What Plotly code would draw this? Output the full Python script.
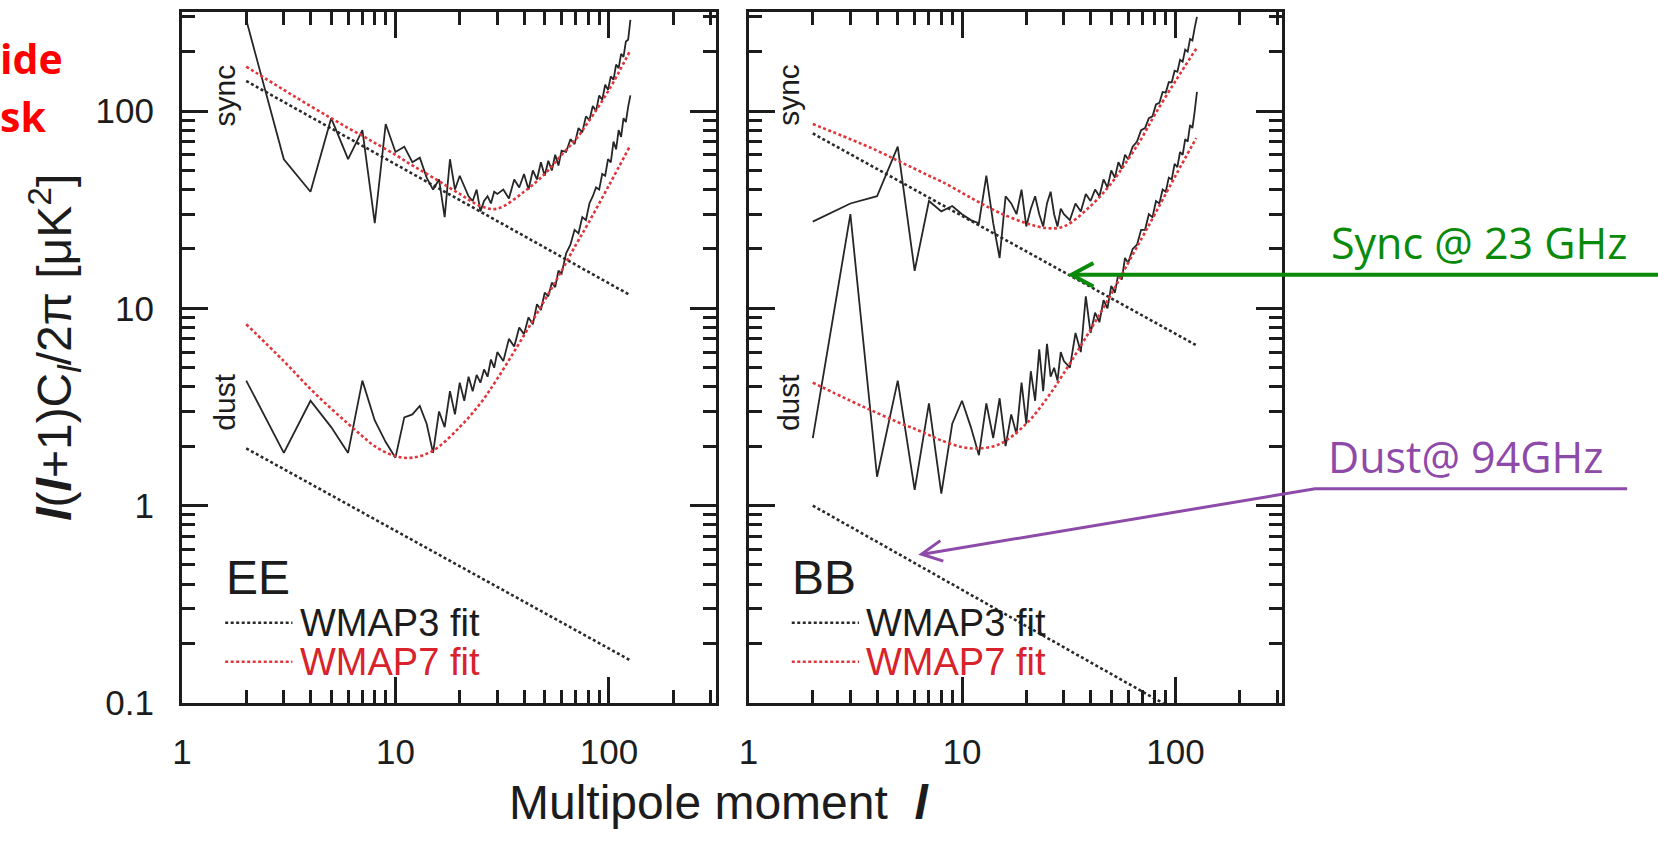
import plotly.graph_objects as go

W, H = 1658, 847

# ---------------- data ----------------
L_FIT = [2, 3, 4, 5, 6, 7, 8, 10, 12, 15, 20, 25, 30, 40, 50, 60, 70, 80, 100, 125]
EE_SYNC_W7 = [168, 128, 106, 92, 82, 75, 69, 60, 53, 46, 38, 33, 32, 39, 48, 60, 72, 88, 128, 200]
EE_DUST_W7 = [8.3, 5.4, 3.9, 3.1, 2.6, 2.25, 2.0, 1.78, 1.75, 1.9, 2.5, 3.3, 4.4, 7.3, 11, 15.5, 21, 27, 42, 66]
BB_SYNC_W7 = [86, 72, 63, 56, 51, 47, 44, 38.5, 34.5, 30.5, 27, 25.5, 26, 33, 43, 57, 74, 96, 142, 207]
BB_DUST_W7 = [4.2, 3.4, 2.95, 2.65, 2.45, 2.28, 2.14, 1.98, 1.95, 2.05, 2.6, 3.5, 4.7, 7.8, 11.8, 17, 23, 30, 47, 73]

L_W3 = [2, 125]
EE_SYNC_W3 = [142, 11.7]
EE_DUST_W3 = [1.95, 0.165]
BB_SYNC_W3 = [77, 6.5]
BB_DUST_W3 = [1.0, 0.08]

L_DATA = [2, 3, 4, 5, 6, 7, 8, 9, 10, 11, 12, 13, 14, 15, 16, 17, 18, 19, 20, 21,
          22, 23, 24, 25, 26, 27, 28, 29, 30, 32, 34, 36, 38, 40, 42, 44, 46, 48, 50,
          52, 54, 56, 58, 60, 63, 66, 69, 72, 75, 78, 81, 84, 87, 90, 93, 96, 99, 102,
          105, 108, 111, 114, 117, 120, 123, 126]

EE_SYNC_DATA = [290, 57, 39, 92, 57, 80, 27, 86, 62, 66, 55, 58, 46, 40, 45, 29, 57, 40, 47, 42,
                37, 35, 40, 31, 35, 37, 34, 39, 38, 40, 36, 45, 41, 48, 40, 50, 45, 55, 47,
                56, 50, 60, 53, 63, 62, 72, 68, 82, 78, 94, 90, 106, 100, 120, 114, 136, 128, 150,
                144, 172, 165, 195, 188, 225, 230, 290]
EE_DUST_DATA = [4.3, 1.85, 3.4, 2.5, 1.85, 4.3, 2.7, 2.1, 1.75, 2.8, 2.9, 3.2, 2.6, 1.85, 3.0, 2.5, 3.8, 2.9, 4.2, 3.4,
                4.5, 3.8, 4.6, 4.2, 4.9, 4.5, 5.5, 5.0, 6.0, 5.4, 7.0, 6.4, 8.0, 7.4, 9.0, 8.3, 10.5, 9.8, 12,
                11.5, 13.5, 12.8, 15.5, 15, 19, 21, 25, 24, 29, 28, 34, 37, 41, 40, 48, 47, 57, 55,
                70, 64, 80, 74, 92, 88, 105, 120]
BB_SYNC_DATA = [27.5, 34, 37, 66, 15.5, 35, 31, 33, 30, 28, 27, 47, 27, 18, 37, 34, 30, 40, 26, 32,
                37, 30, 26, 34, 39, 30, 26, 32, 30, 28, 34, 31, 38, 35, 40, 37, 45, 41, 50,
                46, 55, 51, 60, 57, 66, 70, 80, 82, 92, 94, 108, 110, 125, 124, 140, 140, 160, 158,
                182, 178, 205, 200, 232, 228, 265, 300]
BB_DUST_DATA = [2.2, 30, 1.4, 4.3, 1.2, 3.3, 1.15, 2.6, 3.4, 2.5, 1.8, 3.3, 2.2, 3.5, 2.0, 2.9, 2.3, 4.2, 2.6, 4.8,
                3.4, 6.2, 3.8, 6.6, 4.5, 5.0, 4.3, 6.0, 5.4, 5.0, 7.5, 6.0, 11.5, 7.5, 9.5, 8.5, 11, 10, 13,
                12, 15, 14, 18, 17, 20, 21, 25, 25, 30, 29, 35, 34, 40, 39, 46, 45, 54, 52,
                62, 60, 72, 70, 85, 82, 100, 125]

X_TICKS = [1, 10, 100]
X_TICK_TEXT = ["1", "10", "100"]
X_MINOR = [2, 3, 4, 5, 6, 7, 8, 9, 20, 30, 40, 50, 60, 70, 80, 90, 200, 300]
Y_TICKS = [0.1, 1, 10, 100]
Y_TICK_TEXT = ["0.1", "1", "10", "100"]
Y_MINOR = [0.2, 0.3, 0.4, 0.5, 0.6, 0.7, 0.8, 0.9, 2, 3, 4, 5, 6, 7, 8, 9,
           20, 30, 40, 50, 60, 70, 80, 90, 200, 300]

# ---------------- styling ----------------
INK = "#1c1c1c"
RED = "#E0353B"
RED_TXT = "#D8232C"
GREEN = "#0A8A0A"
PURPLE = "#8E4AA8"
FONT = "Liberation Sans, Arial, Helvetica, sans-serif"
CAL = "Open Sans, sans-serif"
DOT = "3px,2.5px"

fig = go.Figure()

panels = [
    ("x", "y", EE_SYNC_DATA, EE_DUST_DATA, EE_SYNC_W7, EE_DUST_W7, EE_SYNC_W3, EE_DUST_W3),
    ("x2", "y2", BB_SYNC_DATA, BB_DUST_DATA, BB_SYNC_W7, BB_DUST_W7, BB_SYNC_W3, BB_DUST_W3),
]
for xa, ya, sd, dd, s7, d7, s3, d3 in panels:
    for vals in (s3, d3):
        fig.add_trace(go.Scatter(x=L_W3, y=vals, mode="lines", xaxis=xa, yaxis=ya,
                                 line=dict(color="#2a2a2a", width=2.6, dash=DOT),
                                 showlegend=False, hoverinfo="skip"))
    for vals in (sd, dd):
        fig.add_trace(go.Scatter(x=L_DATA, y=vals, mode="lines", xaxis=xa, yaxis=ya,
                                 line=dict(color="#262626", width=1.8),
                                 showlegend=False, hoverinfo="skip"))
    for vals in (s7, d7):
        fig.add_trace(go.Scatter(x=L_FIT, y=vals, mode="lines", xaxis=xa, yaxis=ya,
                                 line=dict(color=RED, width=2.6, dash=DOT, shape="spline"),
                                 showlegend=False, hoverinfo="skip"))

common = dict(
    type="log", showline=True, linewidth=3, linecolor=INK, mirror="ticks",
    ticks="inside", ticklen=26, tickwidth=2.5, tickcolor=INK,
    showgrid=False, zeroline=False, tickmode="array",
    tickfont=dict(family=FONT, size=35, color=INK),
)
xminor = dict(tickmode="array", tickvals=X_MINOR, ticks="inside", ticklen=13,
              tickwidth=2.5, tickcolor=INK, showgrid=False)
yminor = dict(tickmode="array", tickvals=Y_MINOR, ticks="inside", ticklen=13,
              tickwidth=2.5, tickcolor=INK, showgrid=False)

ydom = [1 - 719 / H, 1 - 12.7 / H]
fig.update_layout(
    width=W, height=H, margin=dict(l=0, r=0, t=0, b=0),
    paper_bgcolor="white", plot_bgcolor="white",
    font=dict(family=FONT, color=INK),
    xaxis=dict(common, domain=[173 / W, 710 / W], range=[0, 2.5], anchor="y",
               tickvals=X_TICKS, ticktext=X_TICK_TEXT, minor=xminor, ticklabelstandoff=16),
    xaxis2=dict(common, domain=[743 / W, 1280 / W], range=[0, 2.5], anchor="y2",
                tickvals=X_TICKS, ticktext=X_TICK_TEXT, minor=xminor, ticklabelstandoff=16),
    yaxis=dict(common, domain=ydom, range=[-1, 2.5], anchor="x",
               tickvals=Y_TICKS, ticktext=Y_TICK_TEXT, minor=yminor, ticklabelstandoff=18),
    yaxis2=dict(common, domain=ydom, range=[-1, 2.5], anchor="x2",
                tickvals=Y_TICKS, ticktext=Y_TICK_TEXT, minor=yminor, showticklabels=False),
)

ann = []
shapes = []


def px(xp, yp):
    return xp / W, 1 - yp / H


def path(points):
    s = ""
    for i, (a, b) in enumerate(points):
        xx, yy = px(a, b)
        s += ("M" if i == 0 else "L") + f"{xx:.5f},{yy:.5f}"
    return s


# panel labels, legends, sync/dust tags
for xa, ya, name, sx in (("x", "y", "EE", 0.079), ("x2", "y2", "BB", 0.075)):
    xr, yr = xa + " domain", ya + " domain"
    ann.append(dict(xref=xr, yref=yr, x=0.078, y=0.182, xanchor="left", yanchor="middle",
                    text=name, showarrow=False, font=dict(size=48, color=INK)))
    for yy, col, tcol, lab in ((0.116, "#2a2a2a", INK, "WMAP3 fit"), (0.0595, RED, RED_TXT, "WMAP7 fit")):
        shapes.append(dict(type="line", xref=xr, yref=yr, x0=0.081, x1=0.207, y0=yy, y1=yy,
                           line=dict(color=col, width=2.6, dash=DOT)))
        ann.append(dict(xref=xr, yref=yr, x=0.217, y=yy, xanchor="left", yanchor="middle",
                        text=lab, showarrow=False, font=dict(size=38, color=tcol)))
    ann.append(dict(xref=xr, yref=yr, x=sx, y=0.88, xanchor="center", yanchor="middle",
                    text="sync", textangle=-90, showarrow=False, font=dict(size=30, color=INK)))
    ann.append(dict(xref=xr, yref=yr, x=sx, y=0.435, xanchor="center", yanchor="middle",
                    text="dust", textangle=-90, showarrow=False, font=dict(size=30, color=INK)))

# axis titles
x, y = px(44, 355)
ann.append(dict(xref="paper", yref="paper", x=x, y=y, xanchor="center", yanchor="middle",
                textangle=-90, showarrow=False,
                text="<b><i>l</i></b>(<b><i>l</i></b>+1)C<sub><i>l</i></sub>/2π [μK<sup>2</sup>]",
                font=dict(size=48, color=INK)))
x, y = px(714, 821)
ann.append(dict(xref="paper", yref="paper", x=x, y=y, xanchor="center", yanchor="middle",
                showarrow=False, text="Multipole moment  <b><i>l</i></b>",
                font=dict(size=48, color=INK)))

# cropped red text at top-left
for txt, yp in (("ide", 59), ("sk", 119)):
    x, y = px(-12, yp)
    ann.append(dict(xref="paper", yref="paper", x=x, y=y, xanchor="left", yanchor="middle",
                    text="<b>" + txt + "</b>", showarrow=False,
                    font=dict(family=CAL, size=41, color="#FF0000")))

# green annotation: label, line and open arrowhead
x, y = px(1327, 248)
ann.append(dict(xref="paper", yref="paper", x=x, y=y, xanchor="left", yanchor="middle",
                text="Sync @ 23 GHz", showarrow=False, font=dict(family=CAL, size=43, color=GREEN)))
shapes.append(dict(type="path", xref="paper", yref="paper",
                   path=path([(1658, 281), (1069, 281)]), line=dict(color=GREEN, width=4)))
shapes.append(dict(type="path", xref="paper", yref="paper",
                   path=path([(1090, 269), (1068, 281), (1090, 293)]), line=dict(color=GREEN, width=4)))

# purple annotation: label, bent line and open arrowhead
x, y = px(1324, 467)
ann.append(dict(xref="paper", yref="paper", x=x, y=y, xanchor="left", yanchor="middle",
                text="Dust@ 94GHz", showarrow=False, font=dict(family=CAL, size=43, color=PURPLE)))
shapes.append(dict(type="path", xref="paper", yref="paper",
                   path=path([(1627, 500), (1313, 500), (918, 567)]), line=dict(color=PURPLE, width=3)))
shapes.append(dict(type="path", xref="paper", yref="paper",
                   path=path([(936, 553), (917, 567), (939, 574)]), line=dict(color=PURPLE, width=3)))

fig.update_layout(annotations=ann, shapes=shapes)
fig.write_html(
    "out.html",
    config={"displayModeBar": False},
    post_script=("document.body.style.margin='0px';"
                 "document.documentElement.style.overflow='hidden';"
                 "document.body.style.overflow='hidden';"),
)
